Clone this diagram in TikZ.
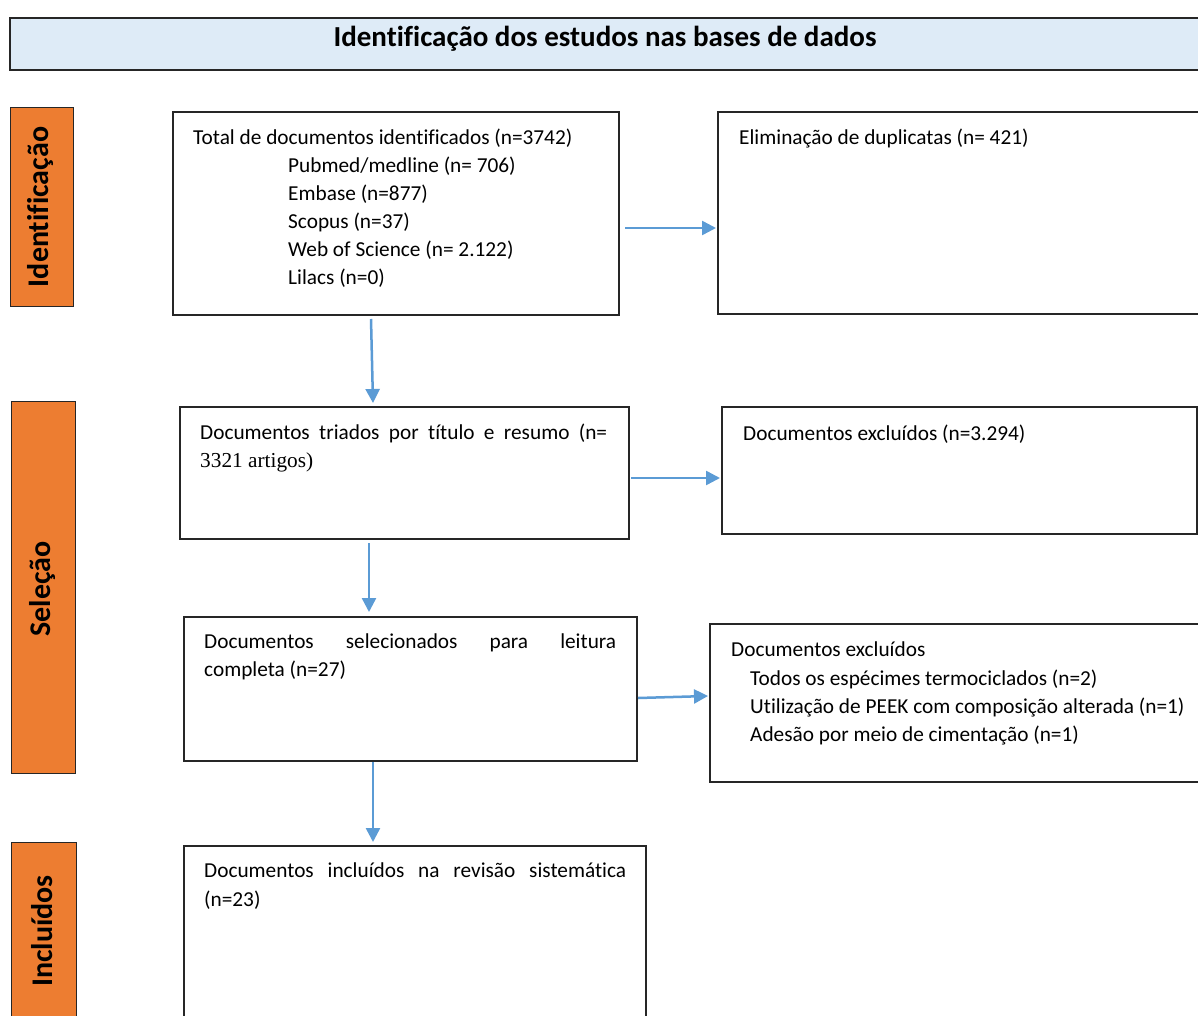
\documentclass[tikz,border=0pt]{standalone}
\usepackage{fontspec}
\setmainfont{Carlito}[Ligatures=NoCommon]
\newfontfamily\timesfont{Liberation Serif}
\usetikzlibrary{arrows.meta}
\definecolor{hdr}{HTML}{DEEBF7}
\definecolor{org}{HTML}{ED7D31}
\definecolor{arr}{HTML}{5B9BD5}
\begin{document}
\begin{tikzpicture}[x=1pt,y=1pt,
  box/.style={draw=black!85, line width=1.3pt, inner sep=0pt, outer sep=0pt, anchor=north west},
  side/.style={draw=black!85, fill=org, line width=1pt, inner sep=0pt, outer sep=0pt, anchor=north west},
  txt/.style={inner sep=0pt, anchor=base west, font=\fontsize{21.3}{25}\selectfont},
  lbl/.style={inner sep=0pt, rotate=90, font=\fontsize{30}{34}\selectfont\bfseries},
  arrow/.style={draw=arr, line width=2.5pt, -{Triangle[length=14pt,width=14pt]}}
]
\useasboundingbox (0,0) rectangle (1198,-1016);
\fill[white] (0,0) rectangle (1198,-1016);

% header
\node[box, fill=hdr, minimum width=1205pt, minimum height=52pt] (hdr) at (10,-18) {};
\node[inner sep=0pt, anchor=base, font=\fontsize{29}{33}\selectfont\bfseries] (title) at (605,-47) {Identificação dos estudos nas bases de dados};

% side labels
\node[side, minimum width=63pt, minimum height=198pt] (s1) at (10,-108) {};
\node[lbl] (l1) at ([xshift=-1pt]s1.center) {Identificação};
\node[side, minimum width=64pt, minimum height=372pt] (s2) at (11,-401) {};
\node[lbl] (l2) at ([xshift=-1pt,yshift=-2pt]s2.center) {Seleção};
\node[side, minimum width=65pt, minimum height=200pt] (s3) at (11,-842) {};
\node[lbl] (l3) at (42,-931) {Incluídos};

% boxes
\node[box, minimum width=446pt, minimum height=203pt] (A) at (173,-112) {};
\node[box, minimum width=500pt, minimum height=202pt] (B) at (718,-112) {};
\node[box, minimum width=449pt, minimum height=132pt] (C) at (180,-407) {};
\node[box, minimum width=475pt, minimum height=127pt] (D) at (722,-407) {};
\node[box, minimum width=453pt, minimum height=144pt] (E) at (184,-617) {};
\node[box, minimum width=510pt, minimum height=158pt] (F) at (710,-624) {};
\node[box, minimum width=462pt, minimum height=190pt] (G) at (184,-846) {};

% texts A
\node[txt] (a1) at (193,-144.5) {Total de documentos identificados (n=3742)};
\node[txt] (a2) at (288,-172.5) {Pubmed/medline (n= 706)};
\node[txt] (a3) at (288,-200.5) {Embase (n=877)};
\node[txt] (a4) at (288,-228.5) {Scopus (n=37)};
\node[txt] (a5) at (288,-256.5) {Web of Science (n= 2.122)};
\node[txt] (a6) at (288,-284.5) {Lilacs (n=0)};
% text B
\node[txt] (b1) at (739,-144.5) {Eliminação de duplicatas (n= 421)};
% texts C
\node[txt] (c1) at (200,-439) {\makebox[407pt][s]{Documentos triados por título e resumo (n=}};
\node[txt] (c2) at (200,-467) {\timesfont 3321 artigos)};
% text D
\node[txt] (d1) at (743,-440) {Documentos excluídos (n=3.294)};
% texts E
\node[txt] (e1) at (204,-648) {\makebox[412pt][s]{Documentos selecionados para leitura}};
\node[txt] (e2) at (204,-676) {completa (n=27)};
% texts F
\node[txt] (f1) at (731,-656) {Documentos excluídos};
\node[txt] (f2) at (750,-685) {Todos os espécimes termociclados (n=2)};
\node[txt] (f3) at (750,-713) {Utilização de PEEK com composição alterada (n=1)};
\node[txt] (f4) at (750,-741) {Adesão por meio de cimentação (n=1)};
% texts G
\node[txt] (g1) at (204,-877) {\makebox[422pt][s]{Documentos incluídos na revisão sistemática}};
\node[txt] (g2) at (204,-906) {(n=23)};

% arrows
\draw[arrow] ([xshift=6pt,yshift=-14.5pt]A.east) -- ([xshift=-2pt,yshift=-15pt]B.west);
\draw[arrow] ([xshift=-25pt,yshift=-4pt]A.south) -- ([xshift=-31.5pt,yshift=4pt]C.north);
\draw[arrow] ([xshift=2pt,yshift=-5pt]C.east) -- ([xshift=-2pt,yshift=-7.5pt]D.west);
\draw[arrow] ([xshift=-35.5pt,yshift=-4pt]C.south) -- ([xshift=-41.5pt,yshift=5pt]E.north);
\draw[arrow] ([xshift=1pt,yshift=-9pt]E.east) -- ([xshift=-2pt,yshift=7pt]F.west);
\draw[arrow] ([xshift=-37.5pt,yshift=-1pt]E.south) -- ([xshift=-42pt,yshift=4pt]G.north);
\end{tikzpicture}
\end{document}
